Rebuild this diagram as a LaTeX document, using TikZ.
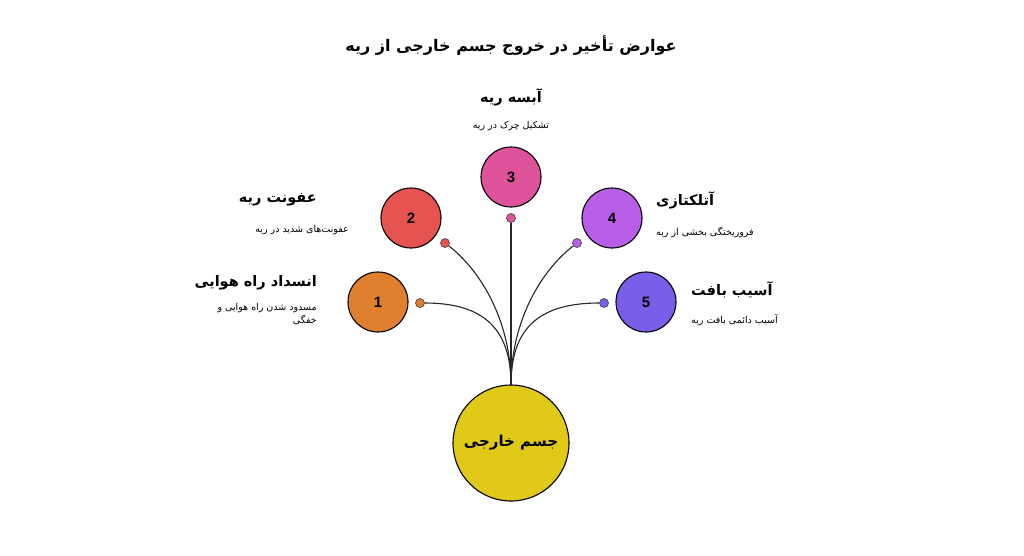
\documentclass[tikz,border=0pt]{standalone}
\usepackage{fontspec}
\setsansfont{Liberation Sans}
\TeXXeTstate=1
\newfontfamily\arabicfont[Script=Arabic]{DejaVu Sans}
\usetikzlibrary{positioning}
\definecolor{cone}{HTML}{E0802F}
\definecolor{ctwo}{HTML}{E65451}
\definecolor{cthree}{HTML}{DF529C}
\definecolor{cfour}{HTML}{B95EE6}
\definecolor{cfive}{HTML}{7A5DE8}
\definecolor{ccenter}{HTML}{E0C917}
\tikzset{
  bubble/.style={circle, draw=black, line width=1.1pt, minimum size=60pt, inner sep=0pt, font=\sffamily\bfseries\fontsize{15}{18}\selectfont},
  dot/.style={circle, draw=black!70, line width=0.7pt, minimum size=9pt, inner sep=0pt},
  head/.style={font=\arabicfont\bfseries\fontsize{14.5}{18}\selectfont, inner sep=1pt},
  desc/.style={font=\arabicfont\fontsize{9.5}{13}\selectfont, inner sep=1pt, align=right},
  link/.style={line width=1.1pt, draw=black!85}
}
\begin{document}
\begin{tikzpicture}[x=1pt, y=-1pt]
      \useasboundingbox (0,0) rectangle (1024,555);

      % Define nodes
	  \node[head, font=\arabicfont\bfseries\fontsize{16}{20}\selectfont] (title) at (511,46) {\beginR عوارض تأخیر در خروج جسم خارجی از ریه\endR};
	  \node[bubble, fill=ccenter, minimum size=116pt, font=\arabicfont\bfseries\fontsize{15}{18}\selectfont] (center) at (511,443) {\beginR جسم خارجی\endR};
	  \node[bubble, fill=cone]   (b1) at (378,302) {1};
	  \node[bubble, fill=ctwo]   (b2) at (411,218) {2};
	  \node[bubble, fill=cthree] (b3) at (511,177) {3};
	  \node[bubble, fill=cfour]  (b4) at (612,218) {4};
	  \node[bubble, fill=cfive]  (b5) at (646,302) {5};
	  \node[dot, fill=cone]   (d1) at (420,303) {};
	  \node[dot, fill=ctwo]   (d2) at (445,243) {};
	  \node[dot, fill=cthree] (d3) at (511,218) {};
	  \node[dot, fill=cfour]  (d4) at (577,243) {};
	  \node[dot, fill=cfive]  (d5) at (604,303) {};
	  \coordinate (top) at (511,385);

	  % Labels
	  \node[head, anchor=east] (h1) at (318,283) {\beginR انسداد راه هوایی\endR};
	  \node[desc, anchor=north east] (t1) at (318,302) {\beginR مسدود شدن راه هوایی و\endR\\\beginR خفگی\endR};
	  \node[head, anchor=east] (h2) at (318,200) {\beginR عفونت ریه\endR};
	  \node[desc, anchor=east] (t2) at (350,230) {\beginR عفونت‌های شدید در ریه\endR};
	  \node[head] (h3) at (511,97) {\beginR آبسه ریه\endR};
	  \node[desc] (t3) at (511,126) {\beginR تشکیل چرک در ریه\endR};
	  \node[head, anchor=west] (h4) at (655,200) {\beginR آتلکتازی\endR};
	  \node[desc, anchor=west] (t4) at (655,232) {\beginR فروریختگی بخشی از ریه\endR};
	  \node[head, anchor=west] (h5) at (690,290) {\beginR آسیب بافت\endR};
	  \node[desc, anchor=west] (t5) at (690,320) {\beginR آسیب دائمی بافت ریه\endR};

	  % Connect the nodes
	  \draw[link] (d1) .. controls (485,303) and (511,330) .. (top);
	  \draw[link] (d2) .. controls (480,270) and (511,320) .. (top);
	  \draw[link] (d3) -- (top);
	  \draw[link] (d4) .. controls (542,270) and (511,320) .. (top);
	  \draw[link] (d5) .. controls (537,303) and (511,330) .. (top);

	\end{tikzpicture}
\end{document}
